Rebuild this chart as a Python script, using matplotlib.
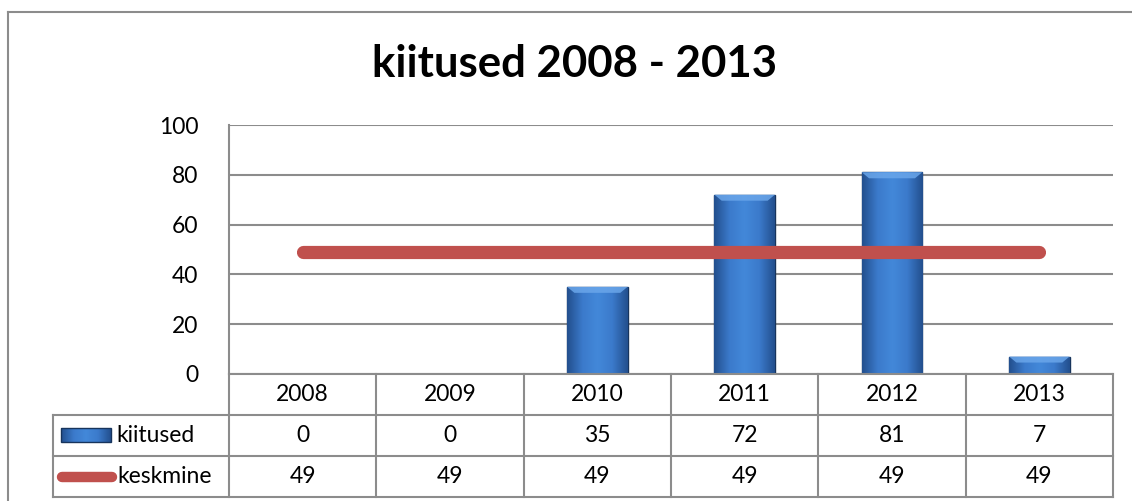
import numpy as np
import matplotlib
matplotlib.use("Agg")
import matplotlib.pyplot as plt
from matplotlib.colors import LinearSegmentedColormap
from matplotlib.lines import Line2D

# data
years = ["2008", "2009", "2010", "2011", "2012", "2013"]
kiitused = [0, 0, 35, 72, 81, 7]
keskmine = [49, 49, 49, 49, 49, 49]
y_ticks = [0, 20, 40, 60, 80, 100]
title = "kiitused 2008 - 2013"
row_labels = ["kiitused", "keskmine"]

W, H = 1132, 501
GRID = "#8c8c8c"
RED = "#C0504D"
FONT = "Lato"
FS = 16.5

plt.rcParams["font.family"] = [FONT, "DejaVu Sans"]

fig = plt.figure(figsize=(W / 100, H / 100), dpi=100)


def px_box(x0, y0, x1, y1):
    # pixel box (top-left origin) -> figure fraction rect
    return [x0 / W, (H - y1) / H, (x1 - x0) / W, (y1 - y0) / H]


# outer chart frame (only top and left edges are visible in the crop)
fig.add_artist(Line2D([8 / W, 1.0], [1 - 12 / H, 1 - 12 / H], color=GRID, lw=1.5))
fig.add_artist(Line2D([8 / W, 8 / W], [0, 1 - 12 / H], color=GRID, lw=1.5))

fig.text(575 / W, 1 - 64 / H, title, ha="center", va="center",
         fontsize=31.5, fontweight="bold", color="black")

# main plot area
ax = fig.add_axes(px_box(229, 125, 1113, 374))
x = np.arange(len(years))
ax.set_yticks(y_ticks)
ax.set_yticklabels([str(v) for v in y_ticks], fontsize=FS)
ax.tick_params(axis="y", length=0, pad=22)
ax.set_xticks([])
for s in ["top", "right", "bottom"]:
    ax.spines[s].set_visible(False)
ax.spines["left"].set_color(GRID)
ax.spines["left"].set_linewidth(1.5)
for v in y_ticks:
    ax.axhline(v, color=GRID, lw=1.5, zorder=0)

# bars with a soft horizontal gradient
cmap = LinearSegmentedColormap.from_list(
    "bar", ["#23508f", "#3b7acb", "#4388d9", "#3b7acb", "#23508f"])
grad = np.tile(np.linspace(0, 1, 64), (16, 1))
bars = ax.bar(x, kiitused, width=0.41, color="#3b7acb",
              edgecolor="#17345c", linewidth=1.0, zorder=2)
for b in bars:
    if b.get_height() <= 0:
        continue
    bx, by = b.get_x(), b.get_y()
    bw, bh = b.get_width(), b.get_height()
    im = ax.imshow(grad, cmap=cmap, aspect="auto", zorder=2.1,
                   extent=[bx, bx + bw, by, by + bh])
    im.set_clip_path(b)
    # lighter bevel on top
    bev = min(2.4, bh * 0.45)
    ins = bw * 0.12
    ax.fill([bx, bx + bw, bx + bw - ins, bx + ins],
            [by + bh, by + bh, by + bh - bev, by + bh - bev],
            color="#6aa6ea", alpha=0.85, zorder=2.2, lw=0)
ax.set_xlim(-0.5, len(years) - 0.5)
ax.set_ylim(0, 100)

ax.plot(x, keskmine, color=RED, lw=9.5, solid_capstyle="round", zorder=3)

# data table under the plot
tab = fig.add_axes(px_box(53, 374, 1113, 497))
col_w = (1113 - 229) / len(years)
left_col = -0.5 - (229 - 53) / col_w
tab.axis("off")

lk = dict(color=GRID, lw=1.5, clip_on=False)
tab.plot([-0.5, len(years) - 0.5], [0, 0], **lk)
for r in [1, 2, 3]:
    tab.plot([left_col, len(years) - 0.5], [r, r], **lk)
tab.plot([left_col, left_col], [1, 3], **lk)
for i in range(len(years) + 1):
    tab.plot([i - 0.5, i - 0.5], [0, 3], **lk)

for i, yr in enumerate(years):
    tab.text(i, 0.5, yr, ha="center", va="center", fontsize=FS)
    tab.text(i, 1.5, str(kiitused[i]), ha="center", va="center", fontsize=FS)
    tab.text(i, 2.5, str(keskmine[i]), ha="center", va="center", fontsize=FS)

# legend keys
kx0 = left_col + 8 / col_w
kx1 = left_col + 58 / col_w
tab.imshow(grad, cmap=cmap, aspect="auto", extent=[kx0, kx1, 1.66, 1.32],
           zorder=3, clip_on=False)
tab.add_patch(plt.Rectangle((kx0, 1.32), kx1 - kx0, 0.34, fill=False,
                            edgecolor="#17345c", lw=1.0, clip_on=False, zorder=4))
tab.plot([left_col + 9 / col_w, left_col + 59 / col_w], [2.5, 2.5], color=RED,
         lw=7.5, solid_capstyle="round", clip_on=False)
tab.set_xlim(left_col, len(years) - 0.5)
tab.set_ylim(3, 0)
tab.text(left_col + 63 / col_w, 1.5, row_labels[0], ha="left", va="center",
         fontsize=FS)
tab.text(left_col + 64 / col_w, 2.5, row_labels[1], ha="left", va="center",
         fontsize=FS)

fig.savefig("out.png", dpi=100)
